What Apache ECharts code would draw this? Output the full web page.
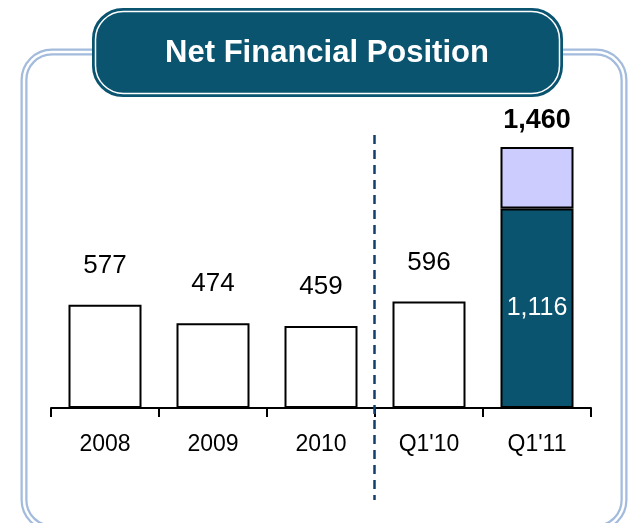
<!DOCTYPE html>
<html>
<head>
<meta charset="utf-8">
<script src="https://cdn.jsdelivr.net/npm/echarts@6/dist/echarts.min.js"></script>
<style>
  html, body { margin: 0; padding: 0; background: #fff; }
  #main { width: 632px; height: 523px; }
</style>
</head>
<body>
<div id="main"></div>
<script>
// data
var categories = ['2008', '2009', '2010', "Q1'10", "Q1'11"];
var baseValues = [577, 474, 459, 596, 1116];
var totals = [577, 474, 459, 596, 1460];

var teal = '#0a5470';
var lavender = '#ccccff';
var frameBlue = '#a3bbdc';
var font = 'Liberation Sans, Arial, sans-serif';

function fmt(v) {
  return v.toLocaleString('en-US');
}

// top part of the stacked Q1'11 bar = total - base
var topValues = totals.map(function (t, i) {
  var d = t - baseValues[i];
  return d > 0 ? d : null;
});

var baseData = baseValues.map(function (v, i) {
  var stacked = topValues[i] != null;
  return {
    value: v,
    itemStyle: { color: stacked ? teal : '#fff' },
    label: stacked
      ? { position: 'inside', color: '#fff', fontSize: 25 }
      : { position: 'top', distance: 26, color: '#000', fontSize: 26 }
  };
});

var option = {
  animation: false,
  textStyle: { fontFamily: font },
  grid: { left: 51, right: 41, top: 147, bottom: 115 },
  xAxis: {
    type: 'category',
    data: categories,
    axisLine: { lineStyle: { color: '#000', width: 2 } },
    axisTick: { show: true, length: 9, lineStyle: { color: '#000', width: 2 } },
    axisLabel: { color: '#000', fontSize: 23, margin: 25, fontFamily: font }
  },
  yAxis: {
    type: 'value',
    min: 0,
    max: 1460,
    show: false
  },
  series: [
    {
      type: 'bar',
      stack: 'nfp',
      barWidth: 73,
      data: baseData,
      itemStyle: { borderColor: '#000', borderWidth: 2 },
      label: {
        show: true,
        fontFamily: font,
        formatter: function (p) { return fmt(p.value); }
      }
    },
    {
      type: 'bar',
      stack: 'nfp',
      barWidth: 73,
      data: topValues,
      itemStyle: { color: lavender, borderColor: '#000', borderWidth: 2 },
      label: {
        show: true,
        position: 'top',
        distance: 13,
        color: '#000',
        fontSize: 27,
        fontWeight: 'bold',
        fontFamily: font,
        formatter: function (p) { return fmt(totals[p.dataIndex]); }
      }
    }
  ]
};

var chart = echarts.init(document.getElementById('main'));
chart.setOption(option);

// dashed divider between annual and quarterly figures
var xa = chart.convertToPixel({ xAxisIndex: 0 }, categories[2]);
var xb = chart.convertToPixel({ xAxisIndex: 0 }, categories[3]);
var divX = Math.round((xa + xb) / 2) - 0.5;

chart.setOption({
  graphic: [
    // outer double-line frame
    {
      type: 'rect', z: 0, silent: true,
      shape: { x: 24, y: 52, width: 600, height: 476, r: 28 },
      style: { fill: null, stroke: frameBlue, lineWidth: 7 }
    },
    {
      type: 'rect', z: 1, silent: true,
      shape: { x: 24, y: 52, width: 600, height: 476, r: 28 },
      style: { fill: null, stroke: '#fff', lineWidth: 2.5 }
    },
    // title box
    {
      type: 'rect', z: 10, silent: true,
      shape: { x: 93, y: 9, width: 469, height: 87, r: 30 },
      style: { fill: teal, stroke: teal, lineWidth: 2 }
    },
    {
      type: 'rect', z: 11, silent: true,
      shape: { x: 95.5, y: 11.5, width: 464, height: 82, r: 28 },
      style: { fill: null, stroke: '#fff', lineWidth: 1.5 }
    },
    {
      type: 'text', z: 12, silent: true,
      x: 327, y: 53,
      style: {
        text: 'Net Financial Position',
        fill: '#fff',
        font: 'bold 31px ' + font,
        textAlign: 'center',
        textVerticalAlign: 'middle'
      }
    },
    {
      type: 'line', z: 20, silent: true,
      shape: { x1: divX, y1: 135, x2: divX, y2: 500 },
      style: { stroke: '#123f6e', lineWidth: 2.5, lineDash: [9, 6] }
    }
  ]
});
</script>
</body>
</html>
